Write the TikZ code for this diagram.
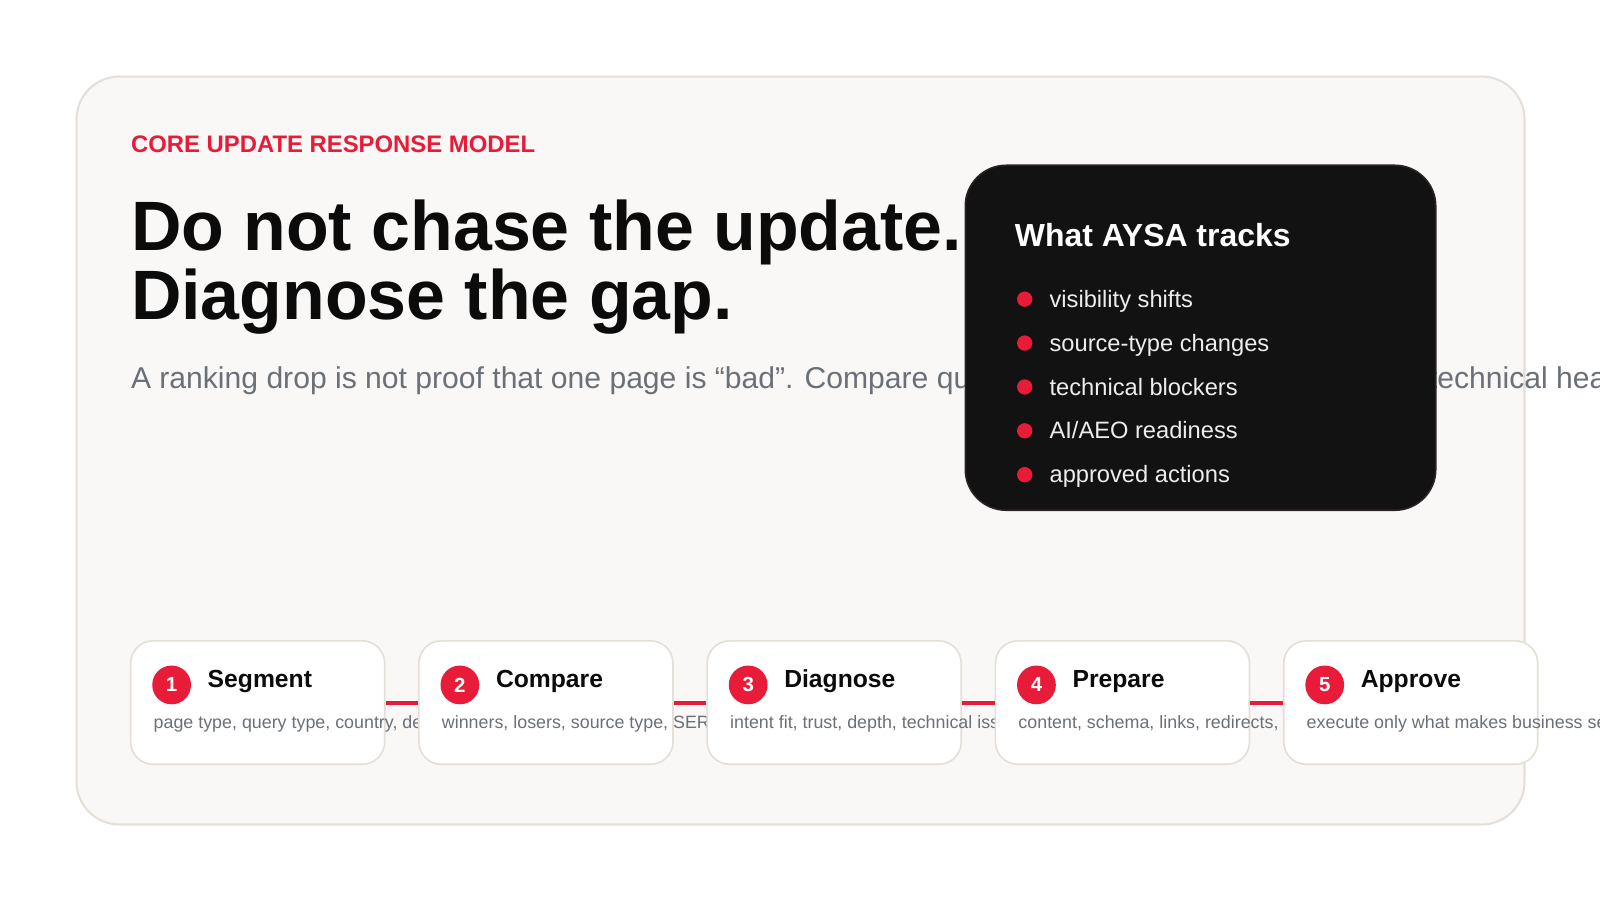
\documentclass[tikz,border=0pt]{standalone}
\usepackage{fontspec}
\setmainfont{Liberation Sans}
\usetikzlibrary{positioning}

\definecolor{aysared}{HTML}{E81C38}
\definecolor{cardbg}{HTML}{F9F8F6}
\definecolor{cardline}{HTML}{E4DFD7}
\definecolor{panelbg}{HTML}{121212}
\definecolor{panelline}{HTML}{2A2226}
\definecolor{mutedtext}{HTML}{6B7078}
\definecolor{inktext}{HTML}{0B0B0B}

\newdimen\pxunit
\pxunit=0.5102pt
\newcommand{\pxfont}[1]{\fontsize{#1\pxunit}{#1\pxunit}\selectfont}

\tikzset{
  textline/.style={anchor=base west, inner sep=0pt},
  stepcard/.style={draw=cardline, fill=white, line width=1.6\pxunit, rounded corners=22\pxunit,
    minimum width=249\pxunit, minimum height=121\pxunit, inner sep=0pt},
  stepdot/.style={circle, fill=aysared, text=white, minimum size=38\pxunit, inner sep=0pt,
    font=\bfseries\pxfont{20}},
  steptitle/.style={textline, text=inktext, font=\bfseries\pxfont{24.2}},
  stepnote/.style={textline, text=mutedtext, font=\pxfont{17.5}},
  flowline/.style={aysared, line width=4\pxunit},
  trackdot/.style={circle, fill=aysared, minimum size=15\pxunit, inner sep=0pt},
  trackitem/.style={textline, text=white!93!black, font=\pxfont{23.2}}
}

\begin{document}
\begin{tikzpicture}[x=\pxunit, y=-\pxunit]
    \useasboundingbox (0,0) rectangle (1568,882);
    \fill[white] (0,0) rectangle (1568,882);
    \begin{scope}
        \clip (0,0) rectangle (1568,882);

        % Outer card
        \draw[cardline, fill=cardbg, line width=2\pxunit, rounded corners=42\pxunit] (75,75) rectangle (1494,808);

        % Kicker, headline and lede
        \node[textline, text=aysared, font=\bfseries\pxfont{23.4}] (kicker) at (128,149) {CORE UPDATE RESPONSE MODEL};
        \node[textline, text=inktext, font=\bfseries\pxfont{68.5}] (headone) at (128,245) {Do not chase the update.};
        \node[textline, text=inktext, font=\bfseries\pxfont{68.5}] (headtwo) at (128,313) {Diagnose the gap.};
        \node[textline, text=mutedtext, font=\pxfont{29.5}] (lede) at (128,381) {A ranking drop is not proof that one page is “bad”. Compare query};
        \node[textline, text=mutedtext, font=\pxfont{29.5}] (ledeend) at (1400,381) {technical health};

        % Dark panel with the tracked items
        \node[draw=panelline, fill=panelbg, line width=1.6\pxunit, rounded corners=40\pxunit,
              minimum width=461\pxunit, minimum height=338\pxunit] (panel) at (1176.5,331) {};
        \node[textline, text=white, font=\bfseries\pxfont{31.3}] (paneltitle)
            at ([shift={(49,80)}]panel.north west) {What AYSA tracks};
        \foreach \item [count=\k from 0] in {visibility shifts, source-type changes, technical blockers, AI/AEO readiness, approved actions} {
            \node[trackdot] (trackdot\k) at ([shift={(59,132+43*\k)}]panel.north west) {};
            \node[trackitem] (track\k) at ([shift={(83,140+43*\k)}]panel.north west) {\item};
        }

        % Step cards
        \foreach \i/\stepname/\stepnote in {1/Segment/{page type, query type, country, device},
                2/Compare/{winners, losers, source type, SERP},
                3/Diagnose/{intent fit, trust, depth, technical issues},
                4/Prepare/{content, schema, links, redirects,},
                5/Approve/{execute only what makes business sense}} {
            \node[stepcard] (step\i) at ({252.5+282.5*(\i-1)},688.5) {};
            \node[stepdot] (num\i) at ([shift={(41,44)}]step\i.north west) {\i};
            \node[steptitle] (title\i) at ([shift={(76,47)}]step\i.north west) {\stepname};
            \node[stepnote] (note\i) at ([shift={(23,87)}]step\i.north west) {\stepnote};
        }
        \foreach \i [count=\j from 2] in {1,...,4}
            \draw[flowline] (step\i.east) -- (step\j.west);
    \end{scope}
\end{tikzpicture}
\end{document}
